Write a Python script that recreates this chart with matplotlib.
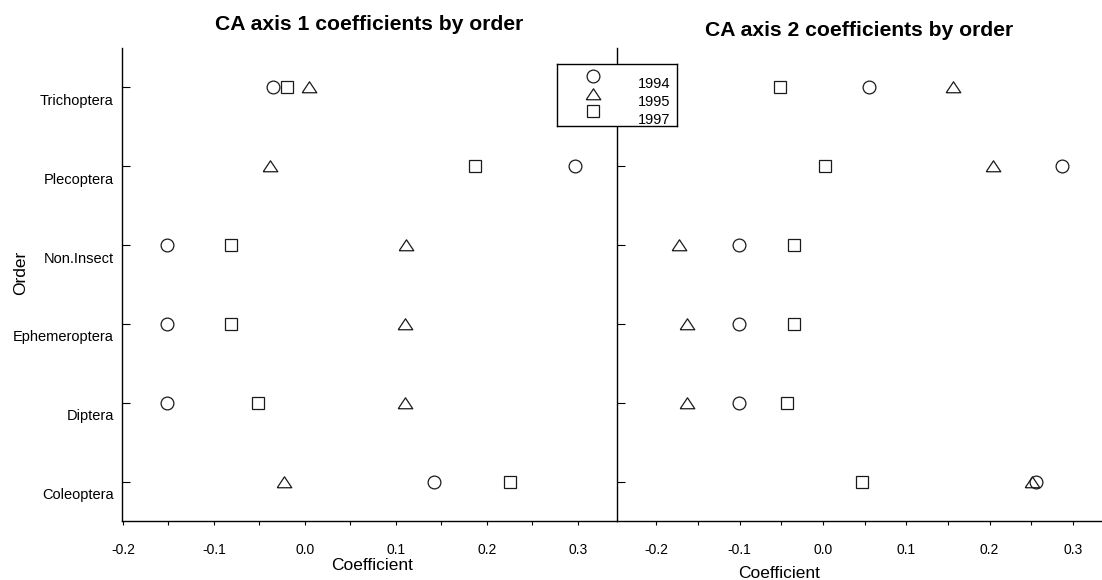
import matplotlib
matplotlib.use('Agg')
import matplotlib.pyplot as plt
import numpy as np
from matplotlib.transforms import ScaledTranslation

plt.rcParams['font.family'] = ['Liberation Sans', 'DejaVu Sans']

# orders listed bottom to top
orders = ['Coleoptera', 'Diptera', 'Ephemeroptera', 'Non.Insect',
          'Plecoptera', 'Trichoptera']
years = ['1994', '1995', '1997']

# CA axis 1 coefficients
ax1_1994 = [0.142, -0.151, -0.151, -0.151, 0.297, -0.035]
ax1_1995 = [-0.023, 0.110, 0.110, 0.111, -0.038, 0.005]
ax1_1997 = [0.225, -0.052, -0.081, -0.081, 0.187, -0.020]

# CA axis 2 coefficients
ax2_1994 = [0.256, -0.101, -0.101, -0.101, 0.287, 0.055]
ax2_1995 = [0.251, -0.163, -0.163, -0.173, 0.204, 0.156]
ax2_1997 = [0.047, -0.043, -0.035, -0.035, 0.002, -0.052]

tri = [(-1, -0.72), (1, -0.72), (0, 0.78), (-1, -0.72)]
markers = {'1994': dict(marker='o', ms=9.2),
           '1995': dict(marker=tri, ms=10.5),
           '1997': dict(marker='s', ms=9.0)}
edge = '#1a1a1a'

fig = plt.figure(figsize=(11.02, 5.80), dpi=100)
W, H = 1102.0, 580.0
bot, top = 521.0, 48.0
axL = fig.add_axes([122 / W, 1 - bot / H, 495 / W, (bot - top) / H])
axR = fig.add_axes([617 / W, 1 - bot / H, 485 / W, (bot - top) / H])

ypos = np.arange(1, len(orders) + 1)
panels = [(axL, [ax1_1994, ax1_1995, ax1_1997], (-0.201, 0.343),
           'CA axis 1 coefficients by order', 13.0, (0.505, -0.095)),
          (axR, [ax2_1994, ax2_1995, ax2_1997], (-0.2473, 0.3349),
           'CA axis 2 coefficients by order', 8.6, (0.334, -0.111))]

for ax, series, xlim, title, tpad, xlab in panels:
    for yr, vals in zip(years, series):
        ax.plot(vals, ypos, linestyle='none', mfc='none', mec=edge,
                mew=0.9, **markers[yr])
    ax.set_xlim(*xlim)
    ax.set_ylim(0.5, 6.5)
    for s in ['top', 'right']:
        ax.spines[s].set_visible(False)
    for s in ['left', 'bottom']:
        ax.spines[s].set_linewidth(1.0)
    ax.set_xticks(np.arange(-0.2, 0.31, 0.1))
    ax.set_xticks(np.arange(-0.15, 0.31, 0.1), minor=True)
    ax.set_xticklabels(['%.1f' % v for v in np.arange(-0.2, 0.31, 0.1)])
    ax.tick_params(axis='x', which='both', direction='out', length=3,
                   width=0.8, pad=13, labelsize=10)
    ax.tick_params(axis='y', direction='in', length=6, width=0.8,
                   pad=6, labelsize=10.5)
    ax.set_yticks(ypos)
    ax.set_title(title, fontsize=15.2, fontweight='bold', pad=tpad)
    ax.set_xlabel('Coefficient', fontsize=12.5)
    ax.xaxis.set_label_coords(*xlab)
    ax.xaxis.label.set_va('center')

axL.set_yticklabels(orders)
off = ScaledTranslation(0, -12 / 100, fig.dpi_scale_trans)
for lab in axL.get_yticklabels():
    lab.set_transform(lab.get_transform() + off)
axR.set_yticklabels([])
axL.set_ylabel('Order', fontsize=12.5)
axL.yaxis.set_label_coords(-0.205, 0.524)
axL.yaxis.label.set_va('center')

# legend box drawn over both panels
leg = fig.add_axes([557 / W, 1 - 126 / H, 120 / W, 62 / H])
leg.set_xlim(0, 120)
leg.set_ylim(62, 0)
leg.set_xticks([])
leg.set_yticks([])
for s in leg.spines.values():
    s.set_linewidth(1.0)
for i, yr in enumerate(years):
    leg.plot([36], [12 + 17.5 * i], linestyle='none', mfc='none', mec=edge,
             mew=0.9, **markers[yr])
    leg.text(113, 20.5 + 17.5 * i, yr, ha='right', va='center',
             fontsize=10.5, clip_on=True)

fig.savefig('out.png', dpi=100)
